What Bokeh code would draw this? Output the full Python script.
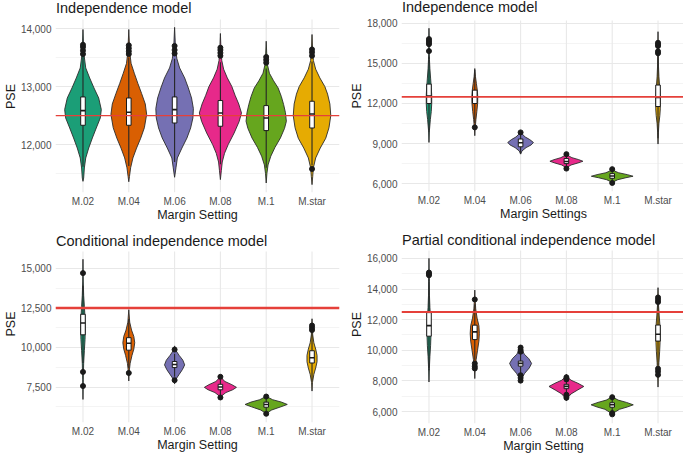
from bokeh.plotting import figure
from bokeh.layouts import column, row
from bokeh.models import Range1d, FixedTicker, Span
from bokeh.core.properties import value
from bokeh.embed import file_html
from bokeh.resources import INLINE

# ---------------------------------------------------------------- data
settings = ["M.02", "M.04", "M.06", "M.08", "M.1", "M.star"]
palette = ["#1B9E77", "#D95F02", "#7570B3", "#E7298A", "#66A61E", "#E6AB02"]
true_total = 12500

# --- Independence model (first run)
ind_a_q1 = [12333, 12333, 12372, 12316, 12241, 12286]
ind_a_med = [12586, 12557, 12603, 12545, 12459, 12528]
ind_a_q3 = [12821, 12803, 12821, 12759, 12672, 12747]
ind_a_lo = [11620, 11630, 11700, 11660, 11600, 11640]
ind_a_hi = [13520, 13500, 13480, 13420, 13310, 13430]
ind_a_out = [[13560, 13620, 13680, 13720], [13560, 13610, 13660, 13710],
             [13570, 13630, 13700], [13530, 13580, 13630, 13670],
             [13410, 13460, 13510], [13530, 13590, 13640, 11580]]
ind_a_vy = [
    [11367, 11424, 11597, 11769, 11941, 12114, 12286, 12459, 12603, 12803, 12976, 13148, 13321, 13552, 13720, 13983],
    [11360, 11450, 11600, 11770, 11940, 12110, 12290, 12520, 12700, 12880, 13050, 13230, 13400, 13600, 13983],
    [11437, 11600, 11769, 11941, 12114, 12286, 12459, 12620, 12803, 12976, 13148, 13321, 13480, 13650, 14020],
    [11397, 11550, 11700, 11850, 12000, 12200, 12400, 12545, 12700, 12850, 13000, 13150, 13300, 13450, 13600, 13914],
    [11338, 11500, 11650, 11800, 11950, 12114, 12280, 12402, 12550, 12690, 12830, 12976, 13100, 13230, 13400, 13781],
    [11310, 11450, 11600, 11770, 11940, 12110, 12290, 12500, 12700, 12870, 13000, 13150, 13300, 13450, 13600, 13897],
]
ind_a_vw = [
    [0, 0.015, 0.03, 0.06, 0.125, 0.205, 0.29, 0.378, 0.40, 0.343, 0.24, 0.146, 0.06, 0.022, 0.012, 0],
    [0, 0.015, 0.04, 0.09, 0.17, 0.26, 0.34, 0.39, 0.36, 0.28, 0.2, 0.12, 0.05, 0.02, 0],
    [0, 0.03, 0.06, 0.16, 0.27, 0.35, 0.40, 0.41, 0.37, 0.3, 0.22, 0.11, 0.05, 0.02, 0],
    [0, 0.02, 0.04, 0.09, 0.17, 0.3, 0.41, 0.46, 0.4, 0.32, 0.25, 0.15, 0.07, 0.03, 0.015, 0],
    [0, 0.015, 0.04, 0.1, 0.19, 0.31, 0.4, 0.44, 0.42, 0.38, 0.33, 0.26, 0.16, 0.07, 0.02, 0],
    [0, 0.015, 0.03, 0.08, 0.18, 0.3, 0.37, 0.41, 0.39, 0.34, 0.28, 0.17, 0.08, 0.03, 0.015, 0],
]

# --- Independence model (second run)
ind_b_q1 = [12000, 12000, 8764, 7506, 6407, 11775]
ind_b_med = [12550, 12500, 9065, 7660, 6580, 12450]
ind_b_q3 = [13450, 13000, 9343, 7883, 6753, 13380]
ind_b_lo = [9900, 10520, 8250, 7180, 6110, 9400]
ind_b_hi = [15500, 14500, 9750, 8150, 7050, 15600]
ind_b_out = [[15920, 16440, 16560, 16680, 16820], [10217], [9840],
             [8213, 7130], [7090, 6060], [15760, 15900, 16300, 16420, 16540]]
ind_b_vy = [
    [9087, 10000, 10800, 11400, 12000, 12600, 13200, 13900, 14600, 15300, 16000, 17000, 17626],
    [9592, 10200, 10800, 11400, 12000, 12500, 13000, 13500, 14000, 14614],
    [8213, 8450, 8700, 8900, 9087, 9300, 9500, 9700, 9900],
    [7100, 7250, 7400, 7550, 7680, 7800, 7950, 8100, 8250],
    [6000, 6150, 6300, 6450, 6560, 6680, 6820, 6950, 7100, 7150],
    [8967, 9800, 10500, 11100, 11600, 12100, 12700, 13300, 14000, 14800, 15800, 17370],
]
ind_b_vw = [
    [0, 0.01, 0.03, 0.05, 0.06, 0.06, 0.05, 0.035, 0.02, 0.01, 0.006, 0.004, 0],
    [0, 0.01, 0.025, 0.045, 0.062, 0.065, 0.055, 0.035, 0.015, 0],
    [0, 0.03, 0.12, 0.23, 0.28, 0.2, 0.1, 0.04, 0],
    [0, 0.03, 0.1, 0.25, 0.36, 0.27, 0.12, 0.04, 0],
    [0, 0.03, 0.12, 0.3, 0.455, 0.33, 0.14, 0.05, 0.01, 0],
    [0, 0.008, 0.02, 0.04, 0.05, 0.05, 0.045, 0.035, 0.02, 0.01, 0.005, 0],
]

# --- Conditional independence model
cond_q1 = [10800, 9830, 8730, 7328, 6225, 9020]
cond_med = [11550, 10270, 8920, 7500, 6400, 9350]
cond_q3 = [12100, 10620, 9114, 7672, 6544, 9794]
cond_lo = [9000, 8700, 8150, 6950, 5950, 7900]
cond_hi = [13900, 11800, 9600, 8000, 6800, 10900]
cond_out = [[14700, 8456, 7564], [8390], [9868, 7936], [8146, 6840],
            [6900, 5810], [11100, 11250, 11390]]
cond_vy = [
    [6716, 8000, 9000, 9800, 10500, 11200, 11900, 12600, 13300, 14200, 15575],
    [7882, 8500, 9000, 9500, 9900, 10300, 10700, 11100, 11600, 12389],
    [7700, 8000, 8300, 8600, 8900, 9200, 9500, 9800, 10100],
    [6800, 6950, 7150, 7330, 7480, 7650, 7850, 8050, 8200],
    [5750, 5900, 6050, 6250, 6400, 6550, 6700, 6850, 6950],
    [7245, 7800, 8300, 8700, 9100, 9500, 9900, 10300, 10800, 11815],
]
cond_vw = [
    [0, 0.006, 0.015, 0.03, 0.045, 0.05, 0.045, 0.03, 0.015, 0.006, 0],
    [0, 0.01, 0.03, 0.07, 0.11, 0.13, 0.11, 0.06, 0.02, 0],
    [0, 0.03, 0.1, 0.17, 0.22, 0.18, 0.1, 0.03, 0],
    [0, 0.03, 0.12, 0.27, 0.35, 0.25, 0.1, 0.03, 0],
    [0, 0.04, 0.12, 0.32, 0.46, 0.33, 0.14, 0.04, 0],
    [0, 0.01, 0.04, 0.08, 0.11, 0.11, 0.08, 0.04, 0.015, 0],
]

# --- Partial conditional independence model
part_q1 = [10920, 10700, 8966, 7496, 6284, 10600]
part_med = [11610, 11200, 9144, 7648, 6442, 11050]
part_q3 = [12460, 11640, 9296, 7780, 6574, 11650]
part_lo = [8700, 9350, 8450, 7250, 5990, 9000]
part_hi = [14700, 13000, 9780, 8000, 6900, 13050]
part_out = [[14900, 14990, 15077], [13317, 9144, 8950, 8815],
            [9909, 10020, 10180, 8373, 8200, 8020], [8100, 8240, 7100, 6900],
            [6943, 5900, 5820], [13150, 13300, 13450, 8800, 8620, 8400]]
part_vy = [
    [7930, 8800, 9600, 10300, 10900, 11500, 12100, 12800, 13600, 14500, 16000],
    [8156, 8800, 9400, 10000, 10600, 11100, 11600, 12100, 12700, 13300, 13930],
    [7900, 8200, 8500, 8850, 9144, 9450, 9750, 10050, 10300],
    [6700, 6900, 7150, 7400, 7640, 7850, 8050, 8250, 8450],
    [5736, 5950, 6150, 6300, 6442, 6600, 6750, 6900, 7055],
    [7600, 8400, 9200, 9900, 10500, 11100, 11700, 12300, 13000, 13600, 14088],
]
part_vw = [
    [0, 0.008, 0.02, 0.035, 0.042, 0.04, 0.035, 0.02, 0.01, 0.005, 0],
    [0, 0.01, 0.03, 0.06, 0.09, 0.1, 0.09, 0.05, 0.02, 0.008, 0],
    [0, 0.03, 0.09, 0.19, 0.24, 0.18, 0.08, 0.03, 0],
    [0, 0.03, 0.1, 0.24, 0.38, 0.25, 0.1, 0.03, 0],
    [0, 0.05, 0.16, 0.33, 0.46, 0.31, 0.13, 0.04, 0],
    [0, 0.008, 0.02, 0.035, 0.045, 0.048, 0.04, 0.025, 0.01, 0.005, 0],
]

# y-axis ticks (major, minor) and their printed labels
ind_a_ticks, ind_a_minor = [12000, 13000, 14000], [11500, 12500, 13500]
ind_a_labels = ["12,000", "13,000", "14,000"]
ind_b_ticks, ind_b_minor = [6000, 9000, 12000, 15000, 18000], [7500, 10500, 13500, 16500]
ind_b_labels = ["6,000", "9,000", "12,000", "15,000", "18,000"]
cond_ticks, cond_minor = [7500, 10000, 12500, 15000], [6250, 8750, 11250, 13750]
cond_labels = ["7,500", "10,000", "12,500", "15,000"]
part_ticks, part_minor = [6000, 8000, 10000, 12000, 14000, 16000], [7000, 9000, 11000, 13000, 15000]
part_labels = ["6,000", "8,000", "10,000", "12,000", "14,000", "16,000"]

FONT = "Liberation Sans"
GRID = "#E8E8E8"


def violin_panel(title, xlabel, q1, med, q3, lo, hi, out, vy, vw, ticks, minor, labels,
                 panel_h, head_h, baseline_px, borders, hline_width):
    """One ggplot-style violin panel.  The frame also covers a title strip of
    head_h pixels above the data panel, so the title can sit close to the top."""
    left, right, bottom = borders
    ymin = min(min(v) for v in vy)
    ymax = max(max(v) for v in vy)
    pad = 0.05 * (ymax - ymin)
    y0, y1 = ymin - pad, ymax + pad
    per_px = (y1 - y0) / panel_h
    p = figure(frame_width=284, frame_height=panel_h + head_h,
               output_backend="svg", toolbar_location=None,
               x_range=Range1d(0.4, 6.6), y_range=Range1d(y0, y1 + head_h * per_px),
               min_border_left=left, min_border_right=right,
               min_border_top=0, min_border_bottom=bottom)
    p.outline_line_color = None
    p.background_fill_color = "white"
    p.border_fill_color = "white"

    xs_pos = list(range(1, len(settings) + 1))
    p.xaxis.ticker = FixedTicker(ticks=xs_pos)
    p.xaxis.major_label_overrides = {i: s for i, s in zip(xs_pos, settings)}
    p.yaxis.ticker = FixedTicker(ticks=ticks, minor_ticks=minor)
    p.yaxis.major_label_overrides = {t: l for t, l in zip(ticks, labels)}
    p.xaxis.axis_label = xlabel
    p.yaxis.axis_label = "PSE"
    for ax in (p.xaxis[0], p.yaxis[0]):
        ax.axis_line_color = None
        ax.major_tick_line_color = None
        ax.minor_tick_line_color = None
        ax.major_tick_out = 0
        ax.major_tick_in = 0
        ax.minor_tick_out = 0
        ax.minor_tick_in = 0
        ax.major_label_text_font = FONT
        ax.major_label_text_font_size = "10px"
        ax.major_label_text_color = "#4D4D4D"
        ax.major_label_text_line_height = 1.0
        ax.axis_label_text_font = FONT
        ax.axis_label_text_font_size = "12.5px"
        ax.axis_label_text_font_style = "normal"
        ax.axis_label_text_color = "#1A1A1A"
        ax.axis_label_text_line_height = 1.0
    p.xaxis.major_label_standoff = 3
    p.xaxis.axis_label_standoff = -2
    p.yaxis.major_label_standoff = 4
    p.yaxis.axis_label_standoff = 0

    # horizontal grid from the axis ticker; vertical grid only over the data panel
    p.xgrid.grid_line_color = None
    p.ygrid.grid_line_color = GRID
    p.ygrid.minor_grid_line_color = "#F1F1F1"
    p.ygrid.grid_line_width = 1.1
    p.ygrid.minor_grid_line_width = 0.8
    p.segment(xs_pos, [y0] * len(xs_pos), xs_pos, [y1] * len(xs_pos),
              line_color=GRID, line_width=1.1)

    # violins
    vxs, vys = [], []
    for c, ys, ws in zip(xs_pos, vy, vw):
        vxs.append([c + w for w in ws] + [c - w for w in reversed(ws)])
        vys.append(list(ys) + list(reversed(ys)))
    p.patches(vxs, vys, fill_color=palette, line_color="#2B2B2B", line_width=0.9)

    # whiskers
    p.segment(xs_pos, q3, xs_pos, hi, line_color="#262626", line_width=1.1)
    p.segment(xs_pos, q1, xs_pos, lo, line_color="#262626", line_width=1.1)
    # boxes and medians
    bw = 0.05
    p.quad(left=[c - bw for c in xs_pos], right=[c + bw for c in xs_pos],
           bottom=q1, top=q3, fill_color="white", line_color="#1A1A1A", line_width=1)
    p.segment([c - bw for c in xs_pos], med, [c + bw for c in xs_pos], med,
              line_color="#1A1A1A", line_width=1.6)
    # outliers
    ox, oy = [], []
    for c, pts in zip(xs_pos, out):
        ox += [c] * len(pts)
        oy += pts
    p.scatter(ox, oy, size=5, color="#1A1A1A")

    p.add_layout(Span(location=true_total, dimension="width",
                      line_color="#E5403A", line_width=hline_width))

    # panel title in the strip above the data panel
    p.text(x=[0.4], y=[y1 + (head_h - baseline_px) * per_px], text=[title],
           text_font=value(FONT), text_font_size="14.5px", text_color="#1A1A1A",
           text_baseline="alphabetic", text_align="left", x_offset=0.5)
    return p


p1 = violin_panel("Independence model", "Margin Setting",
                  ind_a_q1, ind_a_med, ind_a_q3, ind_a_lo, ind_a_hi, ind_a_out,
                  ind_a_vy, ind_a_vw, ind_a_ticks, ind_a_minor, ind_a_labels,
                  173, 19, 7.5, (51, 5, 33), 1.3)
p2 = violin_panel("Independence model", "Margin Settings",
                  ind_b_q1, ind_b_med, ind_b_q3, ind_b_lo, ind_b_hi, ind_b_out,
                  ind_b_vy, ind_b_vw, ind_b_ticks, ind_b_minor, ind_b_labels,
                  171, 20, 6.7, (57, 2, 34), 1.8)
p3 = violin_panel("Conditional independence model", "Margin Setting",
                  cond_q1, cond_med, cond_q3, cond_lo, cond_hi, cond_out,
                  cond_vy, cond_vw, cond_ticks, cond_minor, cond_labels,
                  171, 26, 15.0, (51, 5, 31), 2.4)
p4 = violin_panel("Partial conditional independence model", "Margin Setting",
                  part_q1, part_med, part_q3, part_lo, part_hi, part_out,
                  part_vy, part_vw, part_ticks, part_minor, part_labels,
                  173, 25, 14.3, (57, 2, 30), 1.8)

layout = column(row(p1, p2), row(p3, p4))

with open("out.html", "w") as f:
    f.write(file_html(layout, INLINE))
